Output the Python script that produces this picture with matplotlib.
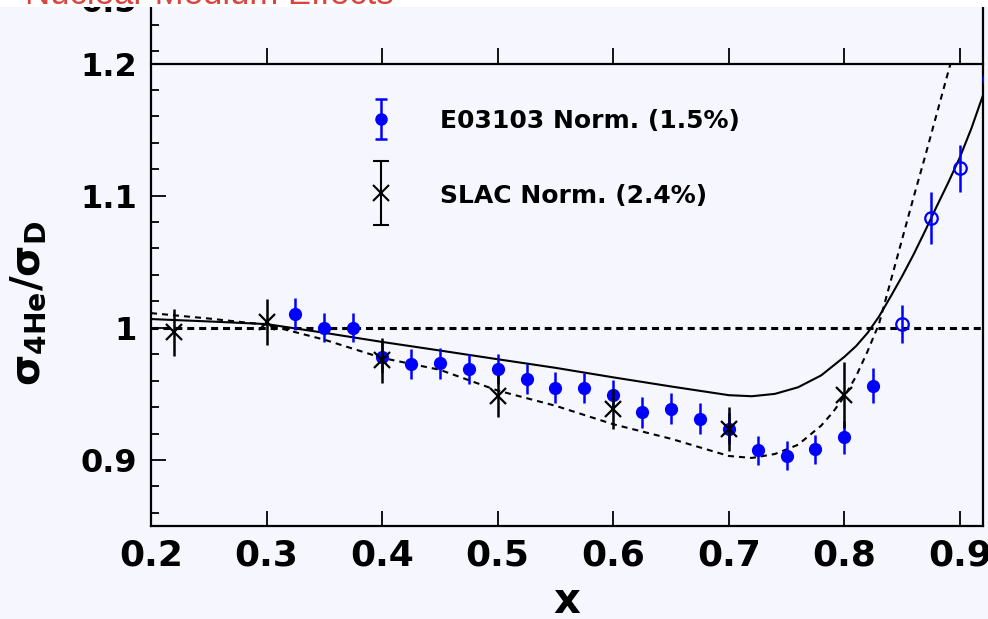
import numpy as np
import matplotlib
matplotlib.use('Agg')
import matplotlib.pyplot as plt
from matplotlib.legend_handler import HandlerErrorbar
from matplotlib.patches import Rectangle
from matplotlib.ticker import FixedLocator, FixedFormatter

# ---------------- data ----------------
e03103_x = [0.325, 0.35, 0.375, 0.40, 0.425, 0.45, 0.475, 0.50, 0.525, 0.55, 0.575,
            0.60, 0.625, 0.65, 0.675, 0.70, 0.725, 0.75, 0.775, 0.80, 0.825]
e03103_y = [1.0106, 1.000, 1.000, 0.978, 0.9728, 0.973, 0.969, 0.969, 0.9612, 0.9548, 0.9544,
            0.949, 0.936, 0.9387, 0.9312, 0.9236, 0.9072, 0.9032, 0.9082, 0.9173, 0.9563]
e03103_err = [0.012, 0.011, 0.011, 0.012, 0.0115, 0.0115, 0.0115, 0.0115, 0.0115, 0.0115, 0.0115,
              0.0115, 0.0117, 0.0117, 0.0117, 0.0117, 0.0107, 0.011, 0.011, 0.0125, 0.0133]

e03103_open_x = [0.85, 0.875, 0.90, 0.925]
e03103_open_y = [1.003, 1.083, 1.1208, 1.188]
e03103_open_err = [0.0145, 0.0195, 0.0177, 0.020]

slac_x = [0.22, 0.30, 0.40, 0.50, 0.60, 0.70, 0.80]
slac_y = [0.9965, 1.0043, 0.9753, 0.9486, 0.9387, 0.9236, 0.9488]
slac_err = [0.0178, 0.0177, 0.017, 0.016, 0.015, 0.0166, 0.025]

solid_x = [0.20, 0.25, 0.30, 0.35, 0.40, 0.45, 0.50, 0.55, 0.60, 0.65, 0.70, 0.72,
           0.74, 0.76, 0.78, 0.80, 0.81, 0.82, 0.83, 0.84, 0.85, 0.86, 0.87, 0.88,
           0.89, 0.90, 0.91, 0.92]
solid_y = [1.0066, 1.0048, 1.0028, 0.9962, 0.9893, 0.9828, 0.9762, 0.9697, 0.9625, 0.9556, 0.9490, 0.9482,
           0.9500, 0.9550, 0.9640, 0.9780, 0.9860, 0.9960, 1.0085, 1.0235, 1.0390, 1.0556, 1.0735, 1.0920,
           1.1100, 1.1290, 1.1510, 1.1760]

dashed_x = [0.20, 0.25, 0.30, 0.35, 0.40, 0.45, 0.50, 0.55, 0.60, 0.65, 0.70, 0.72,
            0.74, 0.76, 0.78, 0.79, 0.80, 0.81, 0.82, 0.83, 0.84, 0.85, 0.86, 0.87,
            0.88, 0.89, 0.90]
dashed_y = [1.0111, 1.0070, 1.0023, 0.9910, 0.9772, 0.9682, 0.9525, 0.9410, 0.9270, 0.9160, 0.9030, 0.9015,
            0.9045, 0.9115, 0.9260, 0.9360, 0.9480, 0.9630, 0.9820, 1.0030, 1.0350, 1.0670, 1.0990, 1.1300,
            1.1620, 1.1940, 1.2260]

ref_level = 1.0
frame_top_level = 1.2

x_ticks = [0.2, 0.3, 0.4, 0.5, 0.6, 0.7, 0.8, 0.9]
x_tick_labels = ['0.2', '0.3', '0.4', '0.5', '0.6', '0.7', '0.8', '0.9']
y_ticks = [0.9, 1.0, 1.1, 1.2]
y_tick_labels = ['0.9', '1', '1.1', '1.2']
y_minor_ticks = [0.86, 0.88, 0.92, 0.94, 0.96, 0.98, 1.02, 1.04, 1.06, 1.08,
                 1.12, 1.14, 1.16, 1.18]

label_e = 'E03103 Norm. (1.5%)'
label_s = 'SLAC Norm. (2.4%)'
title_text = 'Nuclear Medium Effects'

# ---------------- layout ----------------
W, H, DPI = 988, 619, 100
BG = '#f6f7fe'
BLUE = '#0000ff'
plt.rcParams['mathtext.fontset'] = 'dejavusans'

fig = plt.figure(figsize=(W / DPI, H / DPI), dpi=DPI)
fig.patch.set_facecolor(BG)

L_px, R_px, B_px, T_px, Y12_px = 151, 983, 526, 7, 63.5
XMIN, XMAX = 0.2, 0.92
YMIN = 0.85
ppu = (B_px - Y12_px) / (frame_top_level - YMIN)
YMAX = frame_top_level + (Y12_px - T_px) / ppu

ax = fig.add_axes([L_px / W, 1 - B_px / H, (R_px - L_px) / W, (B_px - T_px) / H])
ax.set_facecolor(BG)
ax.set_xlim(XMIN, XMAX)
ax.set_ylim(YMIN, YMAX)
for s in ['left', 'right', 'bottom']:
    ax.spines[s].set_linewidth(1.6)
ax.spines['top'].set_visible(False)

ax.xaxis.set_major_locator(FixedLocator(x_ticks))
ax.xaxis.set_major_formatter(FixedFormatter(x_tick_labels))
ax.yaxis.set_major_locator(FixedLocator(y_ticks))
ax.yaxis.set_major_formatter(FixedFormatter(y_tick_labels))
ax.yaxis.set_minor_locator(FixedLocator(y_minor_ticks))
ax.tick_params(axis='x', which='major', direction='in', length=11, width=1.3,
               labelsize=26, pad=9, top=False)
ax.tick_params(axis='y', which='major', direction='in', length=11, width=1.3,
               labelsize=23, pad=10, right=False)
ax.tick_params(axis='y', which='minor', direction='in', length=5.8, width=1.3, right=False)
for lab in ax.get_xticklabels() + ax.get_yticklabels():
    lab.set_fontweight('bold')

# upper frame (line at 1.2 with its ticks)
ax_top = fig.add_axes([L_px / W, 1 - Y12_px / H, (R_px - L_px) / W, (Y12_px - T_px) / H])
ax_top.set_facecolor('none')
ax_top.set_xlim(XMIN, XMAX)
ax_top.set_ylim(0, 1)
for s in ['left', 'right', 'top']:
    ax_top.spines[s].set_visible(False)
ax_top.spines['bottom'].set_linewidth(1.6)
ax_top.xaxis.set_major_locator(FixedLocator(x_ticks))
ax_top.yaxis.set_major_locator(FixedLocator([0.221, 0.681]))
ax_top.tick_params(axis='x', direction='in', length=11.5, width=1.3, labelbottom=False)
ax_top.tick_params(axis='y', direction='in', length=5.8, width=1.3, labelleft=False)

# reference line
ax.axhline(ref_level, color='k', lw=2.2, ls=(0, (2.3, 1.6)), zorder=1)

clip_rect = Rectangle((XMIN, YMIN), XMAX - XMIN, frame_top_level - YMIN, transform=ax.transData)
l1, = ax.plot(solid_x, solid_y, color='k', lw=1.5, zorder=2)
l2, = ax.plot(dashed_x, dashed_y, color='k', lw=1.5, ls=(0, (2.9, 2.4)), zorder=2)
l1.set_clip_path(clip_rect)
l2.set_clip_path(clip_rect)

ax.errorbar(e03103_x, e03103_y, yerr=e03103_err, fmt='o', color=BLUE, ms=8.5,
            elinewidth=1.8, capsize=0, zorder=3)
ax.errorbar(e03103_open_x, e03103_open_y, yerr=e03103_open_err, fmt='o', color=BLUE,
            mfc='none', mec=BLUE, mew=1.6, ms=9, elinewidth=1.8, capsize=0, zorder=3)
ax.errorbar(slac_x, slac_y, yerr=slac_err, fmt='x', color='k', ms=11, mew=1.6,
            elinewidth=1.8, capsize=0, zorder=4)

# legend proxies
proxy_e = ax.errorbar([np.nan], [np.nan], yerr=[np.nan], fmt='o', color=BLUE, ms=8,
                      elinewidth=1.8, capsize=4.5, capthick=1.8)
proxy_s = ax.errorbar([np.nan], [np.nan], yerr=[np.nan], fmt='x', color='k', ms=11, mew=1.5,
                      elinewidth=1.5, capsize=6, capthick=1.5)
ax.legend([proxy_e, proxy_s], [label_e, label_s],
          handler_map={proxy_e: HandlerErrorbar(yerr_size=0.8),
                       proxy_s: HandlerErrorbar(yerr_size=1.28)},
          loc='upper left', bbox_to_anchor=(0.2614, 0.804), frameon=False,
          prop=dict(family='DejaVu Sans', weight='bold', size=18),
          handlelength=1.0, handleheight=1.0, handletextpad=1.86, labelspacing=1.98,
          borderpad=0, borderaxespad=0)

# axis labels
ax.set_ylabel(r'$\mathbf{\sigma_{4He}/\sigma_{D}}$', fontsize=29)
ax.yaxis.set_label_coords((48 - L_px) / (R_px - L_px), (B_px - 303) / (B_px - T_px))
ax.set_xlabel('x', fontsize=30, fontweight='bold', family='DejaVu Sans')
ax.xaxis.set_label_coords(0.5, (B_px - 613) / (B_px - T_px))
ax.xaxis.label.set_va('baseline')

# partially hidden text above (slide)
fig.text(109 / W, 1 - 12 / H, '0.5', fontsize=23, fontweight='bold', family='DejaVu Sans',
         ha='center', va='baseline', zorder=1)
fig.patches.append(Rectangle((0, 1 - T_px / H), 1, T_px / H, transform=fig.transFigure,
                             facecolor='white', edgecolor='none', zorder=20))
fig.text(25 / W, 1 - 4 / H, title_text, fontsize=25, color='#d9443f', family='Liberation Sans',
         ha='left', va='baseline', zorder=21)

fig.savefig('out.png', dpi=DPI, facecolor=BG)
